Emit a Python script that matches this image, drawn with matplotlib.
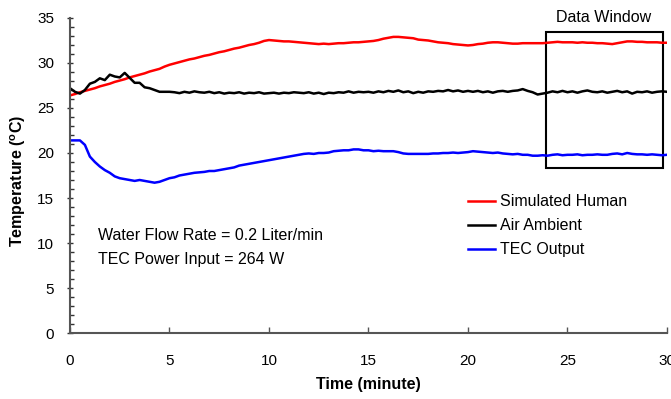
import numpy as np
import matplotlib
matplotlib.use("Agg")
import matplotlib.pyplot as plt
from matplotlib.patches import Rectangle
from matplotlib.ticker import MultipleLocator

plt.rcParams['font.family'] = ['Liberation Sans', 'DejaVu Sans']
plt.rcParams['mathtext.fontset'] = 'custom'
plt.rcParams['mathtext.rm'] = 'Liberation Sans:bold'

# temperatures, one sample every 0.25 minute from 0 to 30
simulated_human = [
    26.4, 26.55, 26.75, 26.9, 27.05, 27.2, 27.4, 27.55, 27.7, 27.9,
    28.05, 28.2, 28.4, 28.55, 28.7, 28.85, 29.05, 29.2, 29.35, 29.6,
    29.8, 29.95, 30.1, 30.25, 30.4, 30.5, 30.65, 30.8, 30.9, 31.05,
    31.2, 31.3, 31.45, 31.6, 31.7, 31.85, 32.0, 32.1, 32.25, 32.45,
    32.55, 32.5, 32.45, 32.4, 32.4, 32.35, 32.3, 32.25, 32.2, 32.15,
    32.1, 32.15, 32.1, 32.15, 32.2, 32.2, 32.25, 32.3, 32.3, 32.35,
    32.4, 32.45, 32.55, 32.7, 32.8, 32.9, 32.9, 32.85, 32.8, 32.75,
    32.6, 32.55, 32.5, 32.4, 32.3, 32.25, 32.2, 32.1, 32.05, 32.0,
    31.95, 32.0, 32.1, 32.15, 32.25, 32.3, 32.3, 32.25, 32.2, 32.15,
    32.15, 32.2, 32.2, 32.2, 32.2, 32.2, 32.25, 32.3, 32.35, 32.3,
    32.3, 32.3, 32.25, 32.3, 32.25, 32.25, 32.2, 32.2, 32.15, 32.1,
    32.2, 32.3, 32.4, 32.4, 32.35, 32.35, 32.3, 32.3, 32.3, 32.25,
    32.25,
]
air_ambient = [
    27.2, 26.8, 26.6, 27.0, 27.7, 27.9, 28.3, 28.1, 28.7, 28.5,
    28.4, 28.9, 28.35, 27.8, 27.8, 27.3, 27.2, 27.0, 26.8, 26.8,
    26.8, 26.75, 26.65, 26.8, 26.7, 26.85, 26.75, 26.7, 26.8, 26.65,
    26.75, 26.6, 26.7, 26.65, 26.75, 26.6, 26.7, 26.65, 26.75, 26.6,
    26.65, 26.7, 26.6, 26.7, 26.65, 26.75, 26.7, 26.65, 26.75, 26.6,
    26.7, 26.55, 26.7, 26.65, 26.75, 26.7, 26.85, 26.7, 26.8, 26.75,
    26.8, 26.7, 26.85, 26.75, 26.9, 26.8, 26.95, 26.75, 26.85, 26.65,
    26.8, 26.7, 26.85, 26.8, 26.9, 26.85, 27.0, 26.85, 26.95, 26.8,
    26.9, 26.8, 26.9, 26.75, 26.85, 26.7, 26.85, 26.9, 26.8, 26.9,
    26.95, 27.1, 26.9, 26.75, 26.5, 26.6, 26.7, 26.85, 26.75, 26.9,
    26.75, 26.85, 26.7, 26.85, 26.95, 26.8, 26.75, 26.85, 26.7, 26.8,
    26.9, 26.75, 26.85, 26.6, 26.8, 26.75, 26.85, 26.7, 26.8, 26.85,
    26.8,
]
tec_output = [
    21.4, 21.4, 21.4, 20.9, 19.6, 19.0, 18.5, 18.1, 17.8, 17.4,
    17.2, 17.1, 17.0, 16.9, 17.0, 16.9, 16.8, 16.7, 16.8, 17.0,
    17.2, 17.3, 17.5, 17.6, 17.7, 17.8, 17.85, 17.9, 18.0, 18.0,
    18.1, 18.2, 18.3, 18.4, 18.6, 18.7, 18.8, 18.9, 19.0, 19.1,
    19.2, 19.3, 19.4, 19.5, 19.6, 19.7, 19.8, 19.9, 19.95, 19.9,
    20.0, 20.0, 20.05, 20.2, 20.25, 20.3, 20.3, 20.4, 20.4, 20.3,
    20.3, 20.2, 20.25, 20.2, 20.2, 20.2, 20.1, 19.95, 19.9, 19.9,
    19.9, 19.9, 19.9, 19.95, 19.95, 20.0, 20.0, 20.05, 20.0, 20.05,
    20.1, 20.2, 20.15, 20.1, 20.05, 20.0, 20.05, 19.95, 19.9, 19.85,
    19.9, 19.8, 19.8, 19.7, 19.7, 19.75, 19.7, 19.8, 19.85, 19.75,
    19.8, 19.8, 19.85, 19.75, 19.8, 19.8, 19.85, 19.8, 19.8, 19.9,
    19.95, 19.85, 20.0, 19.9, 19.85, 19.85, 19.8, 19.85, 19.8, 19.75,
    19.8,
]
time_min = np.linspace(0, 30, len(simulated_human))

fig = plt.figure(figsize=(6.71, 3.99), dpi=100)
ax = fig.add_axes([0.1043, 0.1654, 0.8897, 0.7895])

ax.plot(time_min, simulated_human, color='#ff0000', lw=1.8, label='Simulated Human')
ax.plot(time_min, air_ambient, color='black', lw=1.8, label='Air Ambient')
ax.plot(time_min, tec_output, color='#0000ff', lw=1.8, label='TEC Output')

ax.set_xlim(0, 30)
ax.set_ylim(0, 35)
ax.xaxis.set_major_locator(MultipleLocator(5))
ax.yaxis.set_major_locator(MultipleLocator(5))
ax.yaxis.set_minor_locator(MultipleLocator(1))

for s in ['top', 'right']:
    ax.spines[s].set_visible(False)
for s in ['left', 'bottom']:
    ax.spines[s].set_color('#555555')
    ax.spines[s].set_linewidth(1.5)

ax.tick_params(axis='x', which='major', direction='in', length=4, width=1,
               color='#555555', pad=15, labelsize=11)
ax.tick_params(axis='y', which='major', direction='inout', length=5, width=1,
               color='#333333', pad=9, labelsize=11)
ax.tick_params(axis='y', which='minor', direction='in', length=3, width=1,
               color='#333333')

ax.set_xlabel('Time (minute)', fontsize=11.5, fontweight='bold')
ax.xaxis.set_label_coords(0.5, -0.14)
ax.set_ylabel(r'Temperature ($^{\mathrm{o}}$C)', fontsize=11.5, fontweight='bold')
ax.yaxis.set_label_coords(-0.070, 0.483)

# data window box
ax.add_patch(Rectangle((23.9, 18.3), 5.9, 15.1, fill=False, ec='black', lw=1.5))
ax.text(26.8, 35.05, 'Data Window', ha='center', va='center', fontsize=11.5, clip_on=False)

ax.text(1.4, 10.8, 'Water Flow Rate = 0.2 Liter/min', ha='left', va='center', fontsize=11.5)
ax.text(1.4, 8.2, 'TEC Power Input = 264 W', ha='left', va='center', fontsize=11.5)

ax.legend(loc='upper left', bbox_to_anchor=(0.656, 0.46), frameon=False, fontsize=11.5,
          handlelength=1.7, handletextpad=0.3, labelspacing=0.56, borderaxespad=0)

fig.savefig('out.png', dpi=100)
